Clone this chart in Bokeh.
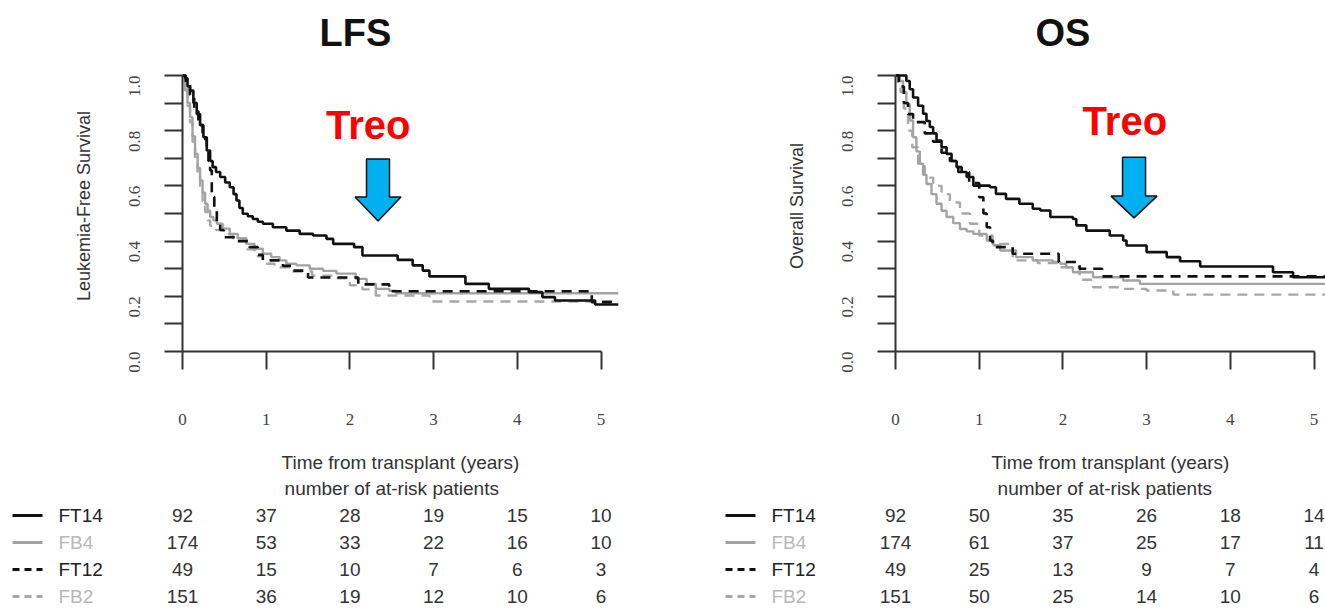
import math
from bokeh.plotting import figure
from bokeh.layouts import row, column
from bokeh.models import Range1d, FixedTicker, PrintfTickFormatter, Plot
from bokeh.core.properties import value
from bokeh.embed import file_html
from bokeh.resources import INLINE

# ---------------------------------------------------------------- data
years = [0, 1, 2, 3, 4, 5]
groups = ["FT14", "FB4", "FT12", "FB2"]

# Kaplan-Meier step points (time in years, survival probability)
lfs_ft14_t = [0, 0.03, 0.06, 0.09, 0.13, 0.17, 0.21, 0.25, 0.29, 0.33, 0.36, 0.40, 0.45, 0.51,
              0.565, 0.61, 0.645, 0.68, 0.72, 0.78, 0.84, 0.90, 0.96, 1.08, 1.24, 1.40, 1.56,
              1.72, 1.80, 2.05, 2.15, 2.57, 2.75, 2.87, 2.95, 3.38, 3.66, 4.14, 4.30, 4.45,
              4.93, 5.21]
lfs_ft14_s = [1.0, 0.99, 0.96, 0.945, 0.90, 0.86, 0.82, 0.776, 0.728, 0.69, 0.668, 0.65, 0.632,
              0.612, 0.595, 0.57, 0.547, 0.52, 0.499, 0.49, 0.48, 0.47, 0.463, 0.45, 0.438,
              0.426, 0.42, 0.408, 0.39, 0.378, 0.348, 0.332, 0.312, 0.293, 0.272, 0.245, 0.227,
              0.215, 0.197, 0.185, 0.170, 0.170]

lfs_fb4_t = [0, 0.03, 0.06, 0.09, 0.12, 0.15, 0.18, 0.21, 0.24, 0.27, 0.30, 0.33, 0.37, 0.41,
             0.48, 0.565, 0.66, 0.76, 0.86, 0.96, 1.06, 1.16, 1.24, 1.36, 1.52, 1.68, 1.84,
             2.07, 2.20, 2.31, 2.47, 2.55, 5.21]
lfs_fb4_s = [1.0, 0.946, 0.90, 0.849, 0.78, 0.716, 0.665, 0.62, 0.575, 0.535, 0.51, 0.487,
             0.475, 0.463, 0.445, 0.426, 0.41, 0.39, 0.372, 0.354, 0.342, 0.33, 0.318, 0.312,
             0.30, 0.292, 0.282, 0.263, 0.245, 0.227, 0.22, 0.211, 0.211]

lfs_ft12_t = [0, 0.04, 0.09, 0.14, 0.19, 0.24, 0.29, 0.31, 0.33, 0.35, 0.38, 0.41, 0.45, 0.49,
              0.65, 0.80, 0.90, 0.96, 1.20, 1.30, 1.50, 2.10, 2.47, 4.89, 5.21]
lfs_ft12_s = [1.0, 0.97, 0.93, 0.87, 0.82, 0.77, 0.728, 0.69, 0.656, 0.56, 0.51, 0.463, 0.44,
              0.414, 0.40, 0.378, 0.35, 0.33, 0.31, 0.293, 0.268, 0.243, 0.218, 0.179, 0.179]

lfs_fb2_t = [0, 0.03, 0.06, 0.09, 0.12, 0.15, 0.18, 0.21, 0.24, 0.27, 0.30, 0.33, 0.40, 0.50,
             0.60, 0.76, 0.86, 0.96, 1.10, 1.30, 1.55, 1.80, 2.00, 2.15, 2.31, 2.95, 5.21]
lfs_fb2_s = [1.0, 0.95, 0.89, 0.83, 0.76, 0.70, 0.64, 0.59, 0.545, 0.505, 0.475, 0.455, 0.44,
             0.425, 0.41, 0.37, 0.345, 0.318, 0.305, 0.29, 0.275, 0.265, 0.24, 0.225, 0.203,
             0.181, 0.181]

os_ft14_t = [0, 0.13, 0.17, 0.21, 0.27, 0.33, 0.37, 0.41, 0.45, 0.49, 0.55, 0.61, 0.67, 0.73,
             0.79, 0.85, 0.93, 1.13, 1.20, 1.32, 1.48, 1.64, 1.73, 1.85, 2.12, 2.16, 2.28, 2.56,
             2.72, 2.76, 3.00, 3.24, 3.40, 3.64, 4.51, 4.75, 5.14]
os_ft14_s = [1.0, 0.98, 0.95, 0.92, 0.89, 0.861, 0.835, 0.813, 0.79, 0.764, 0.74, 0.716, 0.69,
             0.668, 0.65, 0.632, 0.601, 0.595, 0.571, 0.553, 0.535, 0.517, 0.511, 0.487, 0.48,
             0.457, 0.438, 0.42, 0.402, 0.384, 0.36, 0.342, 0.327, 0.308, 0.287, 0.269, 0.269]

os_fb4_t = [0, 0.05, 0.09, 0.13, 0.17, 0.21, 0.25, 0.29, 0.33, 0.37, 0.43, 0.49, 0.55, 0.61,
            0.69, 0.77, 0.85, 0.93, 1.09, 1.17, 1.25, 1.44, 1.64, 1.88, 1.97, 2.04, 2.12, 2.36,
            2.72, 2.92, 5.14]
os_fb4_s = [1.0, 0.98, 0.94, 0.897, 0.837, 0.776, 0.725, 0.68, 0.64, 0.607, 0.57, 0.535, 0.51,
            0.487, 0.465, 0.444, 0.435, 0.426, 0.402, 0.385, 0.366, 0.342, 0.33, 0.324, 0.318,
            0.305, 0.287, 0.269, 0.257, 0.245, 0.245]

os_ft12_t = [0, 0.04, 0.10, 0.15, 0.21, 0.35, 0.45, 0.55, 0.65, 0.75, 0.88, 1.00, 1.05, 1.09,
             1.13, 1.16, 1.40, 1.95, 2.20, 2.47, 5.14]
os_ft12_s = [1.0, 0.96, 0.90, 0.86, 0.831, 0.79, 0.76, 0.72, 0.69, 0.65, 0.61, 0.559, 0.50,
             0.45, 0.402, 0.378, 0.354, 0.324, 0.30, 0.272, 0.272]

os_fb2_t = [0, 0.03, 0.06, 0.10, 0.15, 0.20, 0.27, 0.35, 0.45, 0.55, 0.65, 0.77, 0.89, 1.00,
            1.16, 1.40, 1.70, 1.97, 2.20, 2.36, 2.70, 3.00, 3.32, 5.14]
os_fb2_s = [1.0, 0.97, 0.94, 0.88, 0.80, 0.74, 0.68, 0.63, 0.60, 0.57, 0.54, 0.50, 0.463, 0.42,
            0.39, 0.33, 0.32, 0.305, 0.26, 0.233, 0.227, 0.221, 0.206, 0.206]

# number of at-risk patients at 0..5 years
lfs_risk_ft14 = [92, 37, 28, 19, 15, 10]
lfs_risk_fb4 = [174, 53, 33, 22, 16, 10]
lfs_risk_ft12 = [49, 15, 10, 7, 6, 3]
lfs_risk_fb2 = [151, 36, 19, 12, 10, 6]

os_risk_ft14 = [92, 50, 35, 26, 18, 14]
os_risk_fb4 = [174, 61, 37, 25, 17, 11]
os_risk_ft12 = [49, 25, 13, 9, 7, 4]
os_risk_fb2 = [151, 50, 25, 14, 10, 6]

# ---------------------------------------------------------------- styling
SANS = "Liberation Sans"
SERIF = "Liberation Serif"
PPY = 83.7        # pixels per year on the time axis
PPU = 277.0       # pixels per unit of survival
TOP_H = 475
BOT_H = 133
FRAME_TOP = 60
FRAME_BOTTOM = 352
ROW_PX = 27
HEADER_PX = 13
HAS_FRAME_ALIGN = "frame_align" in Plot.properties()

STYLE = {
    "FT14": dict(color="#111111", width=2.6, dash="solid", label="#222222"),
    "FB4": dict(color="#a3a3a3", width=2.4, dash="solid", label="#b8b8b8"),
    "FT12": dict(color="#111111", width=2.6, dash="10 7", label="#222222"),
    "FB2": dict(color="#a8a8a8", width=2.4, dash="10 7", label="#b8b8b8"),
}


def make_panel(title, title_offset, ylabel, curves, risk, width, axis_px, right_px,
               treo_xy, arrow):
    x_end = (width - axis_px - right_px) / PPY
    y_end = (FRAME_BOTTOM - FRAME_TOP) / PPU
    p = figure(width=width, height=TOP_H, x_range=Range1d(0, x_end), y_range=Range1d(0, y_end),
               min_border_left=axis_px, min_border_right=right_px, min_border_top=FRAME_TOP,
               min_border_bottom=TOP_H - FRAME_BOTTOM, toolbar_location=None,
               output_backend="svg", title=title)
    p.outline_line_color = None
    p.xgrid.visible = False
    p.ygrid.visible = False
    p.background_fill_color = "white"
    p.border_fill_color = "white"

    p.title.text_font = SANS
    p.title.text_font_size = "38px"
    p.title.text_font_style = "bold"
    p.title.text_color = "#111111"
    p.title.align = "left"
    p.title.offset = title_offset
    p.title.standoff = 14

    xa = p.xaxis[0]
    xa.ticker = FixedTicker(ticks=years, minor_ticks=[])
    xa.bounds = (0, 5)
    xa.axis_line_color = "#333333"
    xa.axis_line_width = 2
    xa.major_tick_line_color = "#333333"
    xa.major_tick_line_width = 2
    xa.major_tick_out = 18
    xa.major_tick_in = 0
    xa.minor_tick_line_color = None
    xa.major_label_text_font = SERIF
    xa.major_label_text_font_size = "17px"
    xa.major_label_text_color = "#444444"
    xa.major_label_standoff = 44
    xa.axis_label = "Time from transplant (years)"
    xa.axis_label_text_font = SANS
    xa.axis_label_text_font_size = "19px"
    xa.axis_label_text_font_style = "normal"
    xa.axis_label_text_color = "#333333"
    xa.axis_label_standoff = 24

    ya = p.yaxis[0]
    ya.ticker = FixedTicker(ticks=[0, 0.2, 0.4, 0.6, 0.8, 1.0],
                            minor_ticks=[0.1, 0.3, 0.5, 0.7, 0.9])
    ya.formatter = PrintfTickFormatter(format="%.1f")
    ya.bounds = (0, 1)
    ya.axis_line_color = "#333333"
    ya.axis_line_width = 2
    ya.major_tick_line_color = "#333333"
    ya.major_tick_line_width = 2
    ya.minor_tick_line_color = "#333333"
    ya.minor_tick_line_width = 2
    ya.major_tick_out = 18
    ya.major_tick_in = 0
    ya.minor_tick_out = 18
    ya.minor_tick_in = 0
    ya.major_label_orientation = math.pi / 2
    ya.major_label_text_font = SERIF
    ya.major_label_text_font_size = "17px"
    ya.major_label_text_color = "#444444"
    ya.major_label_standoff = 30
    ya.axis_label = ylabel
    ya.axis_label_text_font = SANS
    ya.axis_label_text_font_size = "18px"
    ya.axis_label_text_font_style = "normal"
    ya.axis_label_text_color = "#333333"
    ya.axis_label_standoff = 27

    # survival curves, grey groups underneath
    for g in ["FB2", "FB4", "FT12", "FT14"]:
        t, s = curves[g]
        st = STYLE[g]
        p.step(t, s, mode="after", line_color=st["color"], line_width=st["width"],
               line_dash=st["dash"])

    # "Treo" callout with a block arrow
    p.text(x=[treo_xy[0]], y=[treo_xy[1]], text=["Treo"], text_color="#ff0000",
           text_font=value(SANS), text_font_style="bold", text_font_size="40px",
           text_align="center", text_baseline="middle")
    cx, top, neck, tip = arrow
    bw = 11.5 / PPY
    hw = 23.0 / PPY
    p.patch([cx - bw, cx + bw, cx + bw, cx + hw, cx, cx - hw, cx - bw],
            [top, top, neck, neck, tip, neck, neck],
            fill_color="#00b0f0", line_color="#111111", line_width=1.5)

    # at-risk table: its own full-width frame, same years-to-pixels scale
    b = figure(width=width, height=BOT_H,
               x_range=Range1d(-axis_px / PPY, (width - axis_px) / PPY),
               y_range=Range1d(-(BOT_H - HEADER_PX) / ROW_PX, HEADER_PX / ROW_PX),
               min_border=0, toolbar_location=None, output_backend="svg",
               x_axis_location=None, y_axis_location=None)
    if HAS_FRAME_ALIGN:
        p.frame_align = False
        b.frame_align = False
    b.outline_line_color = None
    b.xgrid.visible = False
    b.ygrid.visible = False
    b.text(x=[2.5], y=[0], text=["number of at-risk patients"], text_color="#333333",
           text_font=value(SANS), text_font_size="19px", text_align="center",
           text_baseline="middle")
    lx0, lx1, tx = -170 / PPY, -140 / PPY, -124 / PPY
    for i, g in enumerate(groups):
        yrow = -(i + 1)
        st = STYLE[g]
        b.line([lx0, lx1], [yrow, yrow], line_color=st["color"], line_width=st["width"] + 0.4,
               line_dash="7 5" if st["dash"] != "solid" else "solid")
        b.text(x=[tx], y=[yrow], text=[g], text_color=st["label"], text_font=value(SANS),
               text_font_size="19px", text_align="left", text_baseline="middle")
        b.text(x=years, y=[yrow] * len(years), text=[str(v) for v in risk[g]],
               text_color="#333333", text_font=value(SANS), text_font_size="19px",
               text_align="center", text_baseline="middle")
    return column(p, row(b))


lfs_curves = {"FT14": (lfs_ft14_t, lfs_ft14_s), "FB4": (lfs_fb4_t, lfs_fb4_s),
              "FT12": (lfs_ft12_t, lfs_ft12_s), "FB2": (lfs_fb2_t, lfs_fb2_s)}
os_curves = {"FT14": (os_ft14_t, os_ft14_s), "FB4": (os_fb4_t, os_fb4_s),
             "FT12": (os_ft12_t, os_ft12_s), "FB2": (os_fb2_t, os_fb2_s)}
lfs_risk = {"FT14": lfs_risk_ft14, "FB4": lfs_risk_fb4, "FT12": lfs_risk_ft12, "FB2": lfs_risk_fb2}
os_risk = {"FT14": os_risk_ft14, "FB4": os_risk_fb4, "FT12": os_risk_ft12, "FB2": os_risk_fb2}

left = make_panel("LFS", 137, "Leukemia-Free Survival", lfs_curves, lfs_risk,
                  width=660, axis_px=182, right_px=42,
                  treo_xy=(2.22, 0.82), arrow=(2.336, 0.697, 0.56, 0.473))
right = make_panel("OS", 140, "Overall Survival", os_curves, os_risk,
                   width=665, axis_px=235, right_px=0,
                   treo_xy=(2.74, 0.834), arrow=(2.85, 0.704, 0.563, 0.484))

layout = row(left, right)
open("out.html", "w").write(file_html(layout, INLINE))
